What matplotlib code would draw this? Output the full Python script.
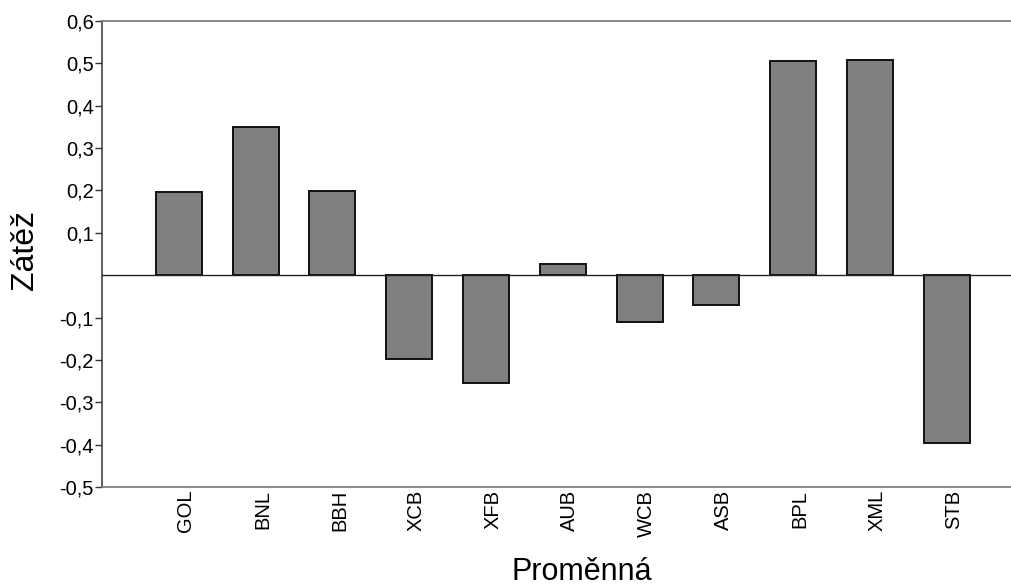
import matplotlib
matplotlib.use("Agg")
import matplotlib.pyplot as plt
import matplotlib.transforms as mtransforms
import numpy as np

plt.rcParams['font.family'] = ['Liberation Sans', 'DejaVu Sans']

# data
promenne = ['GOL', 'BNL', 'BBH', 'XCB', 'XFB', 'AUB', 'WCB', 'ASB', 'BPL', 'XML', 'STB']
zatez = [0.196, 0.350, 0.198, -0.198, -0.255, 0.026, -0.111, -0.071, 0.505, 0.508, -0.397]
yticks = [-0.5, -0.4, -0.3, -0.2, -0.1, 0.1, 0.2, 0.3, 0.4, 0.5, 0.6]

fig = plt.figure(figsize=(10.12, 5.85), dpi=100)
ax = fig.add_axes([102/1012, 1-487/585, 1-102/1012, (487-21)/585])

x = np.arange(len(promenne))
ax.bar(x, zatez, width=0.6, color='#808080', edgecolor='#111111', linewidth=1.4, zorder=3)
ax.axhline(0, color='#222222', linewidth=1.0, zorder=4)

ax.set_xlim(-1.0, 10.85)
ax.set_ylim(-0.5, 0.6)
ax.set_yticks(yticks)
ax.set_yticklabels([('%.1f' % v).replace('.', ',') for v in yticks], fontsize=14.5)
ax.set_xticks(x)
ax.set_xticklabels(promenne, rotation=90, fontsize=14.5, va='top', ha='center')
ax.tick_params(axis='x', length=0, pad=2)
ax.tick_params(axis='y', length=5, width=1, color='#333333', pad=1)

# posun popisku mirne doprava
off = mtransforms.ScaledTranslation(7/100, 0, fig.dpi_scale_trans)
for lab in ax.get_xticklabels():
    lab.set_transform(lab.get_transform() + off)

ax.spines['right'].set_visible(False)
ax.spines['top'].set_color('#777777')
ax.spines['bottom'].set_color('#777777')
ax.spines['left'].set_color('#444444')
for s in ax.spines.values():
    s.set_linewidth(1.2)

fig.text(25/1012, 1-250/585, 'Zátěž', rotation=90, fontsize=23, ha='center', va='center')
fig.text(582/1012, 1-572/585, 'Proměnná', fontsize=22, ha='center', va='center')

fig.savefig('out.png', dpi=100)
